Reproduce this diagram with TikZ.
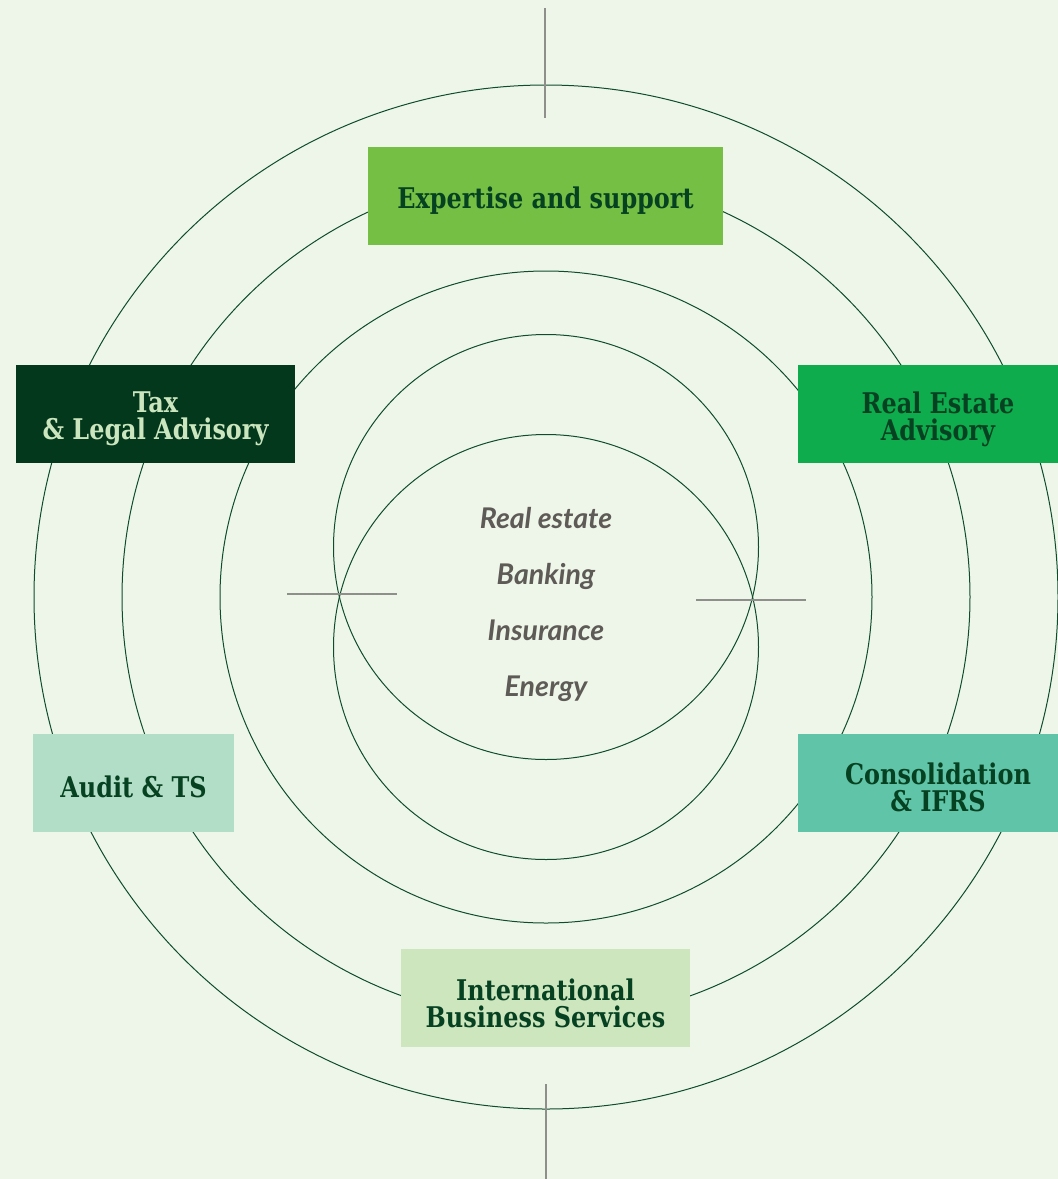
\documentclass[tikz,border=0pt]{standalone}
\usepackage{fontspec}
\newfontfamily\boxfont[FakeStretch=0.84]{DejaVu Serif}
\newfontfamily\sectorfont{Lato}
\definecolor{bg}{HTML}{EEF6EA}
\definecolor{ringgreen}{HTML}{0E4D2C}
\definecolor{tickgray}{HTML}{8E8E8A}
\definecolor{darktext}{HTML}{064221}
\definecolor{lighttext}{HTML}{CBE6BE}
\definecolor{sectorgray}{HTML}{5E5A55}
\definecolor{cExpertise}{HTML}{74BF44}
\definecolor{cTax}{HTML}{03381C}
\definecolor{cRealEstate}{HTML}{0EAC4D}
\definecolor{cAudit}{HTML}{B2DEC7}
\definecolor{cConsol}{HTML}{5FC4A8}
\definecolor{cIBS}{HTML}{CDE6BE}
\begin{document}
\begin{tikzpicture}[x=1pt,y=-1pt,
  ring/.style={draw=ringgreen, line width=1pt},
  tick/.style={draw=tickgray, line width=1.5pt},
  box/.style={rectangle, inner sep=0pt, minimum height=98pt},
  boxtext/.style={align=center, inner sep=0pt,
    font=\boxfont\bfseries\fontsize{28.5}{27}\selectfont, text=darktext},
  sector/.style={anchor=base, font=\sectorfont\bfseries\itshape\fontsize{28.5}{28}\selectfont, text=sectorgray}]
% canvas
\fill[bg] (0,0) rectangle (1058,1179);
\useasboundingbox (0,0) rectangle (1058,1179);
\clip (0,0) rectangle (1058,1179);

% concentric rings
\draw[ring] (546,597) circle [radius=512pt];
\draw[ring] (546,597) circle [radius=424pt];
\draw[ring] (546,597) circle [radius=326pt];
% two overlapping inner rings
\draw[ring] (546,547) circle [radius=212.5pt];
\draw[ring] (546,647) circle [radius=212.5pt];

% cross ticks
\coordinate (t1) at (545,8);    \coordinate (t2) at (545,118);
\coordinate (b1) at (546,1084); \coordinate (b2) at (546,1179);
\coordinate (l1) at (287,594);  \coordinate (l2) at (397,594);
\coordinate (r1) at (696,600);  \coordinate (r2) at (806,600);
\draw[tick] (t1) -- (t2);
\draw[tick] (b1) -- (b2);
\draw[tick] (l1) -- (l2);
\draw[tick] (r1) -- (r2);

% service boxes
\node[box, fill=cExpertise, minimum width=355pt] (expertise) at (545.5,196) {};
\node[box, fill=cTax, minimum width=279pt] (tax) at (155.5,414) {};
\node[box, fill=cRealEstate, minimum width=280pt] (realestate) at (938,414) {};
\node[box, fill=cAudit, minimum width=201pt] (audit) at (133.5,783) {};
\node[box, fill=cConsol, minimum width=280pt] (consol) at (938,783) {};
\node[box, fill=cIBS, minimum width=289pt] (ibs) at (545.5,998) {};

% box labels, set slightly below the box centres
\node[boxtext] (expertiseL) at ([yshift=-5pt]expertise.center) {Expertise and support};
\node[boxtext, text=lighttext] (taxL) at ([yshift=-5pt]tax.center) {Tax\\ \& Legal Advisory};
\node[boxtext] (realestateL) at ([yshift=-5pt]realestate.center) {Real Estate\\Advisory};
\node[boxtext] (auditL) at ([yshift=-4pt]audit.center) {Audit \& TS};
\node[boxtext] (consolL) at ([yshift=-4pt]consol.center) {Consolidation\\ \& IFRS};
\node[boxtext] (ibsL) at ([yshift=-5pt]ibs.center) {International\\Business Services};

% sectors
\node[sector] (s1) at (546,528) {Real estate};
\node[sector] (s2) at (546,584) {Banking};
\node[sector] (s3) at (546,640) {Insurance};
\node[sector] (s4) at (546,696) {Energy};
\end{tikzpicture}
\end{document}
